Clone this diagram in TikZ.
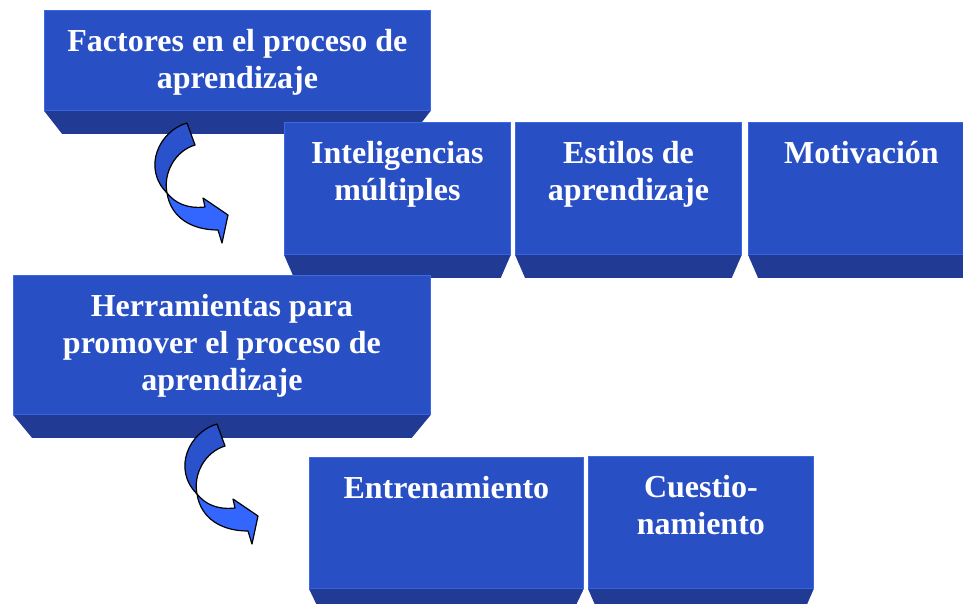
\documentclass[tikz,border=0pt]{standalone}
\usepackage{fontspec}
\setmainfont{Liberation Serif}
\usetikzlibrary{calc}
\definecolor{frente}{RGB}{41,79,196}
\definecolor{lado}{RGB}{33,58,148}
\definecolor{borde}{RGB}{60,104,228}
\definecolor{flechaA}{RGB}{42,82,204}
\definecolor{flechaB}{RGB}{51,102,255}
\tikzset{
  bloque/.style={fill=frente, draw=borde, line width=0.8pt, inner sep=0pt, anchor=north west, text=white,
    font=\fontsize{32}{37}\selectfont\bfseries},
  lado/.style={fill=lado},
  flecha/.style={draw=black, line width=1.2pt, line join=round}
}
% first baseline 41pt below the top of a block
\def\tope{\rule{0pt}{41pt}}
\def\texto#1#2#3{\parbox[t][#1pt][t]{#2pt}{\centering\tope #3}}
\def\base#1#2{\fill[lado] (#1.south west) -- (#1.south east) -- ([xshift=-#2pt,yshift=-23pt]#1.south east) -- ([xshift=#2pt,yshift=-23pt]#1.south west) -- cycle;}
\def\curva(#1,#2){
  \begin{scope}[shift={(#1,#2)}]
    \draw[flecha, fill=flechaB] (-20,70) .. controls (-16,95) and (5,107) .. (31,107) -- (35,120) -- (41,92) -- (16,75) -- (18,84) .. controls (0,86) and (-12,80) .. (-20,70) -- cycle;
    \draw[flecha, fill=flechaA] (0,0) .. controls (-28,8) and (-45,45) .. (-20,70) .. controls (-24,50) and (-12,28) .. (8,22) -- cycle;
  \end{scope}}

\begin{document}
\begin{tikzpicture}[x=1pt,y=-1pt]
  \useasboundingbox (0,0) rectangle (963,604);
  %%%%% FACTORES %%%%%
  \node[bloque] (fac) at (44,10) {\texto{100}{386}{Factores en el proceso de\\aprendizaje}};
  \base{fac}{18}
  \curva(187,123)

  \node[bloque] (int) at (284,122) {\texto{132}{226}{Inteligencias\\múltiples}};
  \base{int}{10}
  \node[bloque] (est) at (515,122) {\texto{132}{226}{Estilos de\\aprendizaje}};
  \base{est}{10}
  \node[bloque] (mot) at (748,122) {\texto{132}{226}{Motivación}};
  \base{mot}{10}

  %%%%% HERRAMIENTAS %%%%%
  \node[bloque] (her) at (13,275) {\texto{139}{417}{Herramientas para\\promover el proceso de\\aprendizaje}};
  \base{her}{19}
  \curva(217,424)

  \node[bloque] (ent) at (309,457) {\texto{131}{274}{Entrenamiento}};
  \base{ent}{11}
  \node[bloque] (cue) at (588,456) {\texto{132}{225}{Cuestio-\\namiento}};
  \base{cue}{10}
\end{tikzpicture}
\end{document}
